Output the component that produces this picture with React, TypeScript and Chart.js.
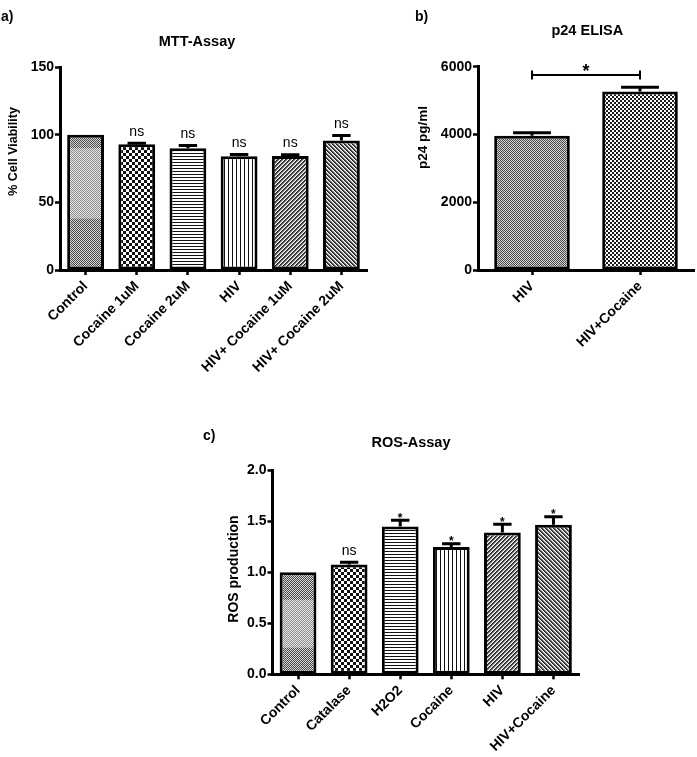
import React, { useEffect, useRef } from 'react';
import { Chart, registerables } from 'chart.js';

Chart.register(...registerables);

const FONT = '"Liberation Sans", Arial, Helvetica, sans-serif';

// ---------- Panel a) MTT-Assay ----------
const mttLabels = ['Control', 'Cocaine 1uM', 'Cocaine 2uM', 'HIV', 'HIV+ Cocaine 1uM', 'HIV+ Cocaine 2uM'];
const mttValues = [100, 93, 90, 84, 84.3, 95.6];
const mttErrors = [0, 0.7, 2, 1.3, 0.9, 3.7];
const mttMarks = ['', 'ns', 'ns', 'ns', 'ns', 'ns'];
const mttBand = [38, 90];
const mttTicks = { min: 0, max: 150, step: 50 };

// ---------- Panel b) p24 ELISA ----------
const p24Labels = ['HIV', 'HIV+Cocaine'];
const p24Values = [3960, 5270];
const p24Errors = [90, 120];
const p24BracketPair = [0, 1];
const p24BracketValue = 5755;
const p24BracketMark = '*';
const p24Ticks = { min: 0, max: 6000, step: 2000 };

// ---------- Panel c) ROS-Assay ----------
const rosLabels = ['Control', 'Catalase', 'H2O2', 'Cocaine', 'HIV', 'HIV+Cocaine'];
const rosValues = [1.0, 1.074, 1.447, 1.245, 1.388, 1.464];
const rosErrors = [0, 0.022, 0.06, 0.033, 0.08, 0.078];
const rosMarks = ['', 'ns', '*', '*', '*', '*'];
const rosBand = [0.26, 0.73];
const rosTicks = { min: 0, max: 2, step: 0.5 };

// fill styles (pattern names) per bar
const mttFills = ['fine', 'checker3', 'hlines', 'vlines', 'diagUp', 'diagDown'];
const p24Fills = ['fine', 'checker2'];
const rosFills = ['fine', 'checker3', 'hlines', 'vlines', 'diagUp', 'diagDown'];

function makeTile(size: number, pick: (x: number, y: number) => string): CanvasPattern {
  const c = document.createElement('canvas');
  c.width = size;
  c.height = size;
  const g = c.getContext('2d')!;
  for (let y = 0; y < size; y++) {
    for (let x = 0; x < size; x++) {
      g.fillStyle = pick(x, y);
      g.fillRect(x, y, 1, 1);
    }
  }
  return g.createPattern(c, 'repeat')!;
}

function makePattern(name: string): CanvasPattern {
  switch (name) {
    case 'fine':
      return makeTile(2, (x, y) => ((x + y) % 2 ? '#d4d4d4' : '#4a4a4a'));
    case 'checker3':
      return makeTile(6, (x, y) => ((Math.floor(x / 3) + Math.floor(y / 3)) % 2 ? '#ffffff' : '#111111'));
    case 'checker2':
      return makeTile(4, (x, y) => ((Math.floor(x / 2) + Math.floor(y / 2)) % 2 ? '#ffffff' : '#1a1a1a'));
    case 'hlines':
      return makeTile(3, (x, y) => (y % 3 === 0 ? '#111111' : '#ffffff'));
    case 'vlines':
      return makeTile(4, (x, y) => (x % 4 === 0 ? '#111111' : '#ffffff'));
    case 'diagUp':
      return makeTile(4, (x, y) => {
        const k = (x + y) % 4;
        return k === 0 ? '#1e1e1e' : k === 1 ? '#555555' : k === 2 ? '#b0b0b0' : '#ffffff';
      });
    case 'diagDown':
    default:
      return makeTile(4, (x, y) => {
        const k = (((x - y) % 4) + 4) % 4;
        return k === 0 ? '#1e1e1e' : k === 1 ? '#555555' : k === 2 ? '#b0b0b0' : '#ffffff';
      });
  }
}

type Text = { text: string; x: number; y: number; size: number };

type Panel = {
  left: number;
  top: number;
  w: number;
  h: number;
  area: { left: number; right: number; top: number; bottom: number };
  labels: string[];
  values: number[];
  errors: number[];
  marks?: string[];
  fills: string[];
  band?: number[];
  ticks: { min: number; max: number; step: number };
  decimals: number;
  barPct: number;
  bracket?: { pair: number[]; value: number; mark: string };
  tag: Text;
  title: Text;
  yTitle: Text;
};

const PANELS: Panel[] = [
  {
    left: 0,
    top: 0,
    w: 372,
    h: 395,
    area: { left: 60, right: 367, top: 67, bottom: 270 },
    labels: mttLabels,
    values: mttValues,
    errors: mttErrors,
    marks: mttMarks,
    fills: mttFills,
    band: mttBand,
    ticks: mttTicks,
    decimals: 0,
    barPct: 0.72,
    tag: { text: 'a)', x: 1, y: 17.5, size: 14 },
    title: { text: 'MTT-Assay', x: 197, y: 42, size: 14.5 },
    yTitle: { text: '% Cell Viability', x: 14, y: 151.5, size: 12.5 },
  },
  {
    left: 372,
    top: 0,
    w: 325,
    h: 395,
    area: { left: 106, right: 322, top: 66.7, bottom: 270 },
    labels: p24Labels,
    values: p24Values,
    errors: p24Errors,
    fills: p24Fills,
    ticks: p24Ticks,
    decimals: 0,
    barPct: 0.7,
    bracket: { pair: p24BracketPair, value: p24BracketValue, mark: p24BracketMark },
    tag: { text: 'b)', x: 43, y: 17.5, size: 14 },
    title: { text: 'p24 ELISA', x: 215.3, y: 30.7, size: 14.5 },
    yTitle: { text: 'p24 pg/ml', x: 51.3, y: 137.5, size: 13.5 },
  },
  {
    left: 200,
    top: 395,
    w: 400,
    h: 362,
    area: { left: 72.5, right: 379, top: 75, bottom: 279.3 },
    labels: rosLabels,
    values: rosValues,
    errors: rosErrors,
    marks: rosMarks,
    fills: rosFills,
    band: rosBand,
    ticks: rosTicks,
    decimals: 1,
    barPct: 0.72,
    tag: { text: 'c)', x: 3, y: 41, size: 14 },
    title: { text: 'ROS-Assay', x: 211, y: 48, size: 14.5 },
    yTitle: { text: 'ROS production', x: 34, y: 174, size: 14 },
  },
];

function decorPlugin(p: Panel) {
  return {
    id: 'decor',
    afterDatasetsDraw(chart: any) {
      const ctx: CanvasRenderingContext2D = chart.ctx;
      const meta = chart.getDatasetMeta(0);
      const ys = chart.scales.y;
      const xs = chart.scales.x;
      ctx.save();
      if (p.band) {
        const bar = meta.data[0];
        const yTop = ys.getPixelForValue(p.band[1]);
        const yBot = ys.getPixelForValue(p.band[0]);
        ctx.fillStyle = 'rgba(255,255,255,0.38)';
        ctx.fillRect(bar.x - bar.width / 2 + 3, yTop, bar.width - 6, yBot - yTop);
      }
      p.values.forEach((v, i) => {
        const bar = meta.data[i];
        const err = p.errors[i];
        const yEnd = ys.getPixelForValue(v + err);
        if (err > 0) {
          ctx.strokeStyle = '#000';
          ctx.lineWidth = 3;
          ctx.lineCap = 'butt';
          ctx.beginPath();
          ctx.moveTo(bar.x, bar.y);
          ctx.lineTo(bar.x, yEnd);
          const cw = bar.width * 0.5;
          ctx.moveTo(bar.x - cw / 2, yEnd);
          ctx.lineTo(bar.x + cw / 2, yEnd);
          ctx.stroke();
        }
        const mark = p.marks ? p.marks[i] : '';
        if (mark) {
          ctx.fillStyle = '#000';
          ctx.textAlign = 'center';
          ctx.textBaseline = 'alphabetic';
          if (mark === '*') {
            ctx.font = `bold 12px ${FONT}`;
            ctx.fillText(mark, bar.x, yEnd + 1.5);
          } else {
            ctx.font = `14px ${FONT}`;
            ctx.fillText(mark, bar.x, yEnd - 7.5);
          }
        }
      });
      if (p.bracket) {
        const x0 = xs.getPixelForValue(p.bracket.pair[0]);
        const x1 = xs.getPixelForValue(p.bracket.pair[1]);
        const yb = ys.getPixelForValue(p.bracket.value);
        ctx.strokeStyle = '#000';
        ctx.lineWidth = 2;
        ctx.beginPath();
        ctx.moveTo(x0, yb);
        ctx.lineTo(x1, yb);
        ctx.moveTo(x0, yb - 4.5);
        ctx.lineTo(x0, yb + 4.5);
        ctx.moveTo(x1, yb - 4.5);
        ctx.lineTo(x1, yb + 4.5);
        ctx.stroke();
        ctx.fillStyle = '#000';
        ctx.textAlign = 'center';
        ctx.textBaseline = 'alphabetic';
        ctx.font = `bold 18px ${FONT}`;
        ctx.fillText(p.bracket.mark, (x0 + x1) / 2, yb + 2);
      }
      ctx.restore();
    },
    afterDraw(chart: any) {
      const ctx: CanvasRenderingContext2D = chart.ctx;
      ctx.save();
      ctx.fillStyle = '#000';
      ctx.textBaseline = 'middle';
      ctx.font = `bold ${p.tag.size}px ${FONT}`;
      ctx.textAlign = 'left';
      ctx.fillText(p.tag.text, p.tag.x, p.tag.y);
      ctx.font = `bold ${p.title.size}px ${FONT}`;
      ctx.textAlign = 'center';
      ctx.fillText(p.title.text, p.title.x, p.title.y);
      ctx.translate(p.yTitle.x, p.yTitle.y);
      ctx.rotate(-Math.PI / 2);
      ctx.font = `bold ${p.yTitle.size}px ${FONT}`;
      ctx.fillText(p.yTitle.text, 0, 0);
      ctx.restore();
    },
  };
}

function buildChart(canvas: HTMLCanvasElement, p: Panel): Chart {
  const fills = p.fills.map(makePattern);
  const tickFont = { family: FONT, size: 14, weight: 'bold' as const };
  return new Chart(canvas, {
    type: 'bar',
    data: {
      labels: p.labels,
      datasets: [
        {
          data: p.values,
          backgroundColor: fills as any,
          borderColor: '#000',
          borderWidth: 3,
          borderSkipped: false,
          barPercentage: p.barPct,
          categoryPercentage: 1,
        },
      ],
    },
    options: {
      responsive: false,
      animation: false,
      devicePixelRatio: 1,
      layout: { padding: { top: p.area.top, right: p.w - p.area.right, left: 0, bottom: 0 } },
      plugins: {
        legend: { display: false },
        tooltip: { enabled: false },
        title: { display: false },
      },
      scales: {
        x: {
          type: 'category',
          offset: true,
          grid: {
            display: true,
            drawOnChartArea: false,
            drawTicks: true,
            tickLength: 5,
            tickWidth: 2.5,
            tickColor: '#000',
            offset: false,
          },
          border: { display: true, color: '#000', width: 3 },
          ticks: {
            autoSkip: false,
            maxRotation: 45,
            minRotation: 45,
            color: '#000',
            font: tickFont,
            padding: 3,
          },
          afterFit: (s: any) => {
            s.height = p.h - p.area.bottom;
          },
        },
        y: {
          min: p.ticks.min,
          max: p.ticks.max,
          grid: {
            display: true,
            drawOnChartArea: false,
            drawTicks: true,
            tickLength: 5,
            tickWidth: 2.5,
            tickColor: '#000',
          },
          border: { display: true, color: '#000', width: 3 },
          ticks: {
            stepSize: p.ticks.step,
            color: '#000',
            font: tickFont,
            padding: 1,
            callback: (v: any) => Number(v).toFixed(p.decimals),
          },
          afterFit: (s: any) => {
            s.width = p.area.left;
          },
        },
      },
    } as any,
    plugins: [decorPlugin(p)],
  });
}

export default function App() {
  const r0 = useRef<HTMLCanvasElement>(null);
  const r1 = useRef<HTMLCanvasElement>(null);
  const r2 = useRef<HTMLCanvasElement>(null);
  const refs = [r0, r1, r2];

  useEffect(() => {
    const charts = PANELS.map((p, i) => buildChart(refs[i].current!, p));
    return () => charts.forEach((c) => c.destroy());
  }, []);

  return (
    <div
      style={{
        position: 'absolute',
        left: 0,
        top: 0,
        width: 697,
        height: 757,
        background: '#fff',
        overflow: 'hidden',
      }}
    >
      {PANELS.map((p, i) => (
        <canvas
          key={i}
          ref={refs[i]}
          width={p.w}
          height={p.h}
          style={{ position: 'absolute', left: p.left, top: p.top, width: p.w, height: p.h, display: 'block' }}
        />
      ))}
    </div>
  );
}
